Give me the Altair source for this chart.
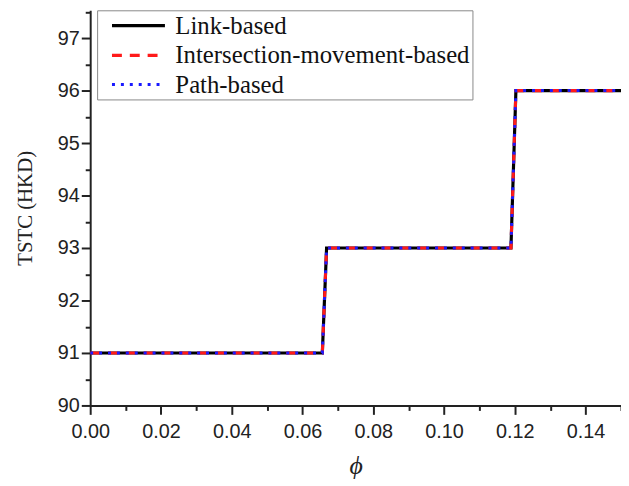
import altair as alt
import pandas as pd

series = ["Link-based", "Intersection-movement-based", "Path-based"]
phi = [0.0, 0.0656, 0.0668, 0.1189, 0.1203, 0.15]
tstc = [91, 91, 93, 93, 96, 96]
colors = ["#000000", "#ff1a1a", "#1a1aff"]
dashes = [[1, 0], [10, 8], [3, 6]]
widths = [3.2, 3.0, 2.6]

rows = []
for s in series:
    for x, y in zip(phi, tstc):
        rows.append({"series": s, "phi": x, "tstc": y})
df = pd.DataFrame(rows)

x_vals = [round(i * 0.01, 2) for i in range(16)]
y_vals = [90 + i * 0.5 for i in range(16)]

chart = alt.Chart(df).mark_line(interpolate="linear", clip=True).encode(
    x=alt.X("phi:Q",
            scale=alt.Scale(domain=[0, 0.15], nice=False, zero=False),
            axis=alt.Axis(
                title="ϕ", values=x_vals,
                labelExpr="round(datum.value*100) % 2 === 0 ? format(datum.value, '.2f') : ''",
                tickSize={"condition": {"test": "round(datum.value*100) % 2 !== 0", "value": 5}, "value": 9},
                labelFlush=False, labelOverlap=False, grid=False,
                labelFont="Liberation Sans", labelFontSize=20, labelColor="#222",
                labelPadding=7,
                titleFont="Liberation Serif", titleFontStyle="italic", titleFontWeight="normal",
                titleFontSize=26, titleColor="#222", titlePadding=12,
                domainColor="#222", domainWidth=2, tickColor="#222", tickWidth=2)),
    y=alt.Y("tstc:Q",
            scale=alt.Scale(domain=[90, 97.53], nice=False, zero=False),
            axis=alt.Axis(
                title="TSTC (HKD)", values=y_vals,
                labelExpr="datum.value % 1 === 0 ? format(datum.value, 'd') : ''",
                tickSize={"condition": {"test": "datum.value % 1 !== 0", "value": 5}, "value": 9},
                labelOverlap=False, grid=False,
                labelFont="Liberation Sans", labelFontSize=20, labelColor="#222",
                labelPadding=2,
                titleFont="Liberation Serif", titleFontWeight="normal",
                titleFontSize=21, titleColor="#222", titlePadding=22,
                domainColor="#222", domainWidth=2, tickColor="#222", tickWidth=2)),
    color=alt.Color("series:N", sort=series,
                    scale=alt.Scale(domain=series, range=colors),
                    legend=alt.Legend(
                        title=None, orient="none", legendX=7, legendY=0,
                        direction="vertical",
                        symbolType="M-1,0H3.65", symbolSize=529, symbolStrokeWidth=3,
                        symbolOffset=11,
                        labelFont="Liberation Serif", labelFontSize=25, labelColor="#111",
                        labelOffset=39, rowPadding=3, padding=2,
                        strokeColor="#888", fillColor="white", labelLimit=500)),
    strokeDash=alt.StrokeDash("series:N", sort=series,
                              scale=alt.Scale(domain=series, range=dashes),
                              legend=None),
    strokeWidth=alt.StrokeWidth("series:N", sort=series,
                                scale=alt.Scale(domain=series, range=widths),
                                legend=None),
).properties(
    width=536, height=399,
    autosize=alt.AutoSizeParams(type="none"),
    padding={"left": 83, "top": 0, "right": 0, "bottom": 78},
).configure_view(stroke=None)

chart.save("out.html", embed_options={"renderer": "svg", "actions": False})
